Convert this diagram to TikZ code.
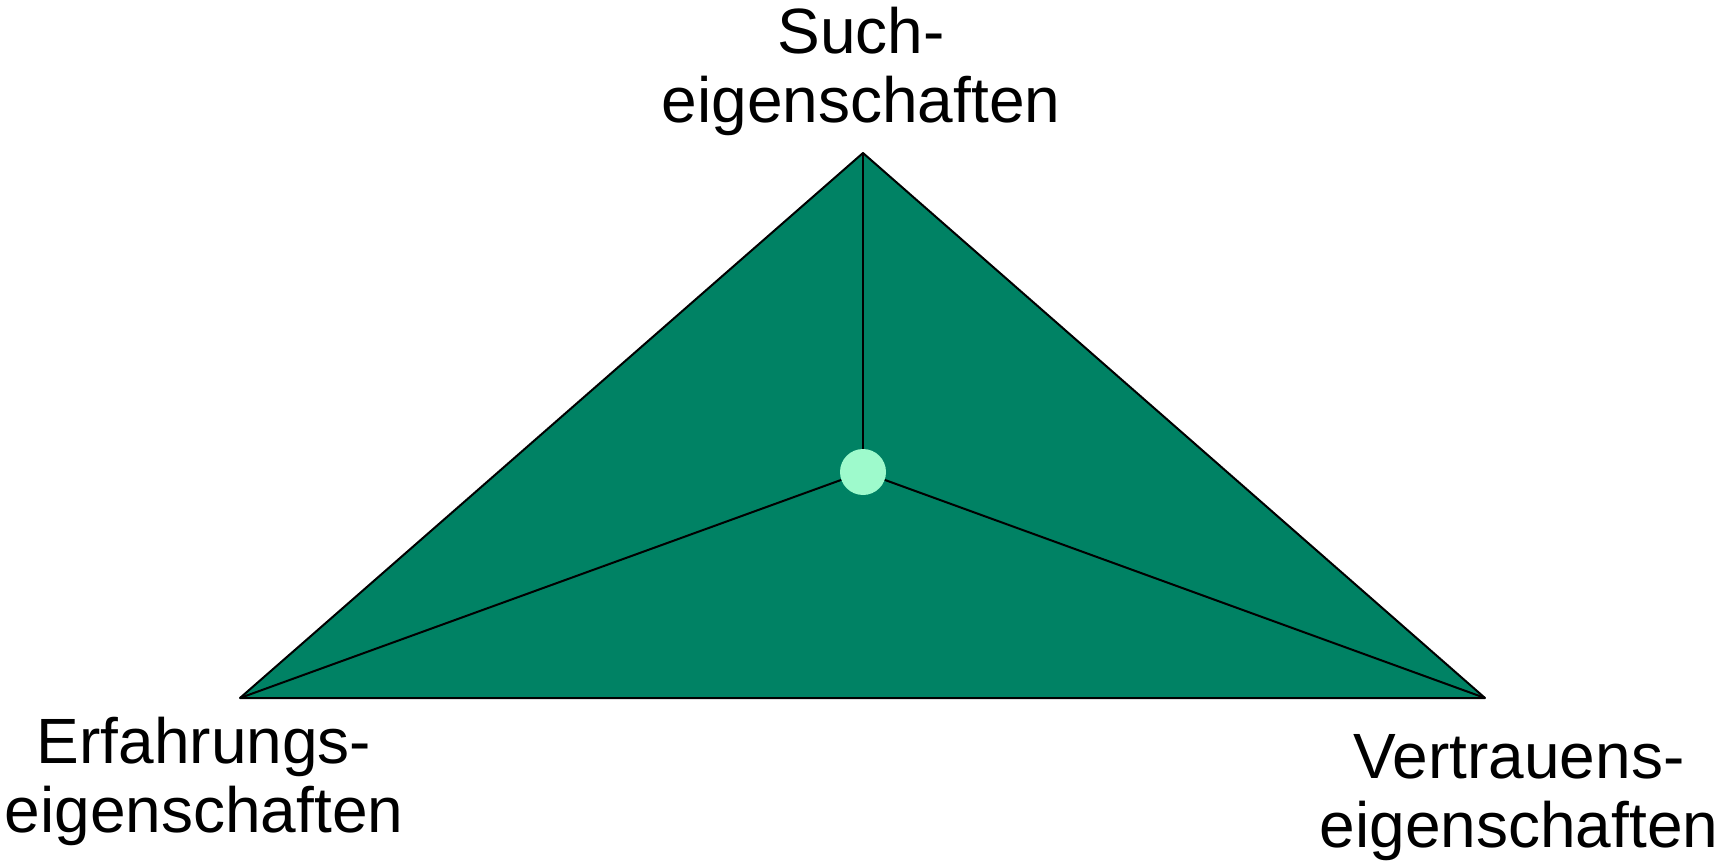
\documentclass[tikz,border=0pt]{standalone}
\usepackage{fontspec}
\setmainfont{Liberation Sans}
\usepackage{xcolor}
\usepackage{tikz}
\usetikzlibrary{positioning}

\definecolor{deepgreen}{RGB}{0,130,100}
\definecolor{mintdot}{RGB}{158,250,204}

\begin{document}
\begin{tikzpicture}[
      x=1pt, y=-1pt,
      prop/.style={align=center, inner sep=0pt, anchor=south, font=\fontsize{64}{69}\selectfont},
      edge/.style={line width=2pt, line join=round}
    ]
    \useasboundingbox (0,0) rectangle (1725,861);
    \coordinate (top) at (863,153);
    \coordinate (left) at (240,698);
    \coordinate (right) at (1485,698);
    \fill[deepgreen] (top) -- (left) -- (right) -- cycle;
    \node[circle, fill=mintdot, minimum size=46pt, inner sep=0pt] (mid) at (863,472) {};
    \draw[edge] (top) -- (left) -- (right) -- cycle;
    \draw[edge] (top) -- (mid);
    \draw[edge] (left) -- (mid);
    \draw[edge] (right) -- (mid);
    \node[prop] (such) at (861,136) {Such-\\eigenschaften};
    \node[prop] (erf) at (204,846) {Erfahrungs-\\eigenschaften};
    \node[prop] (vert) at (1519,861) {Vertrauens-\\eigenschaften};
  \end{tikzpicture}
\end{document}
